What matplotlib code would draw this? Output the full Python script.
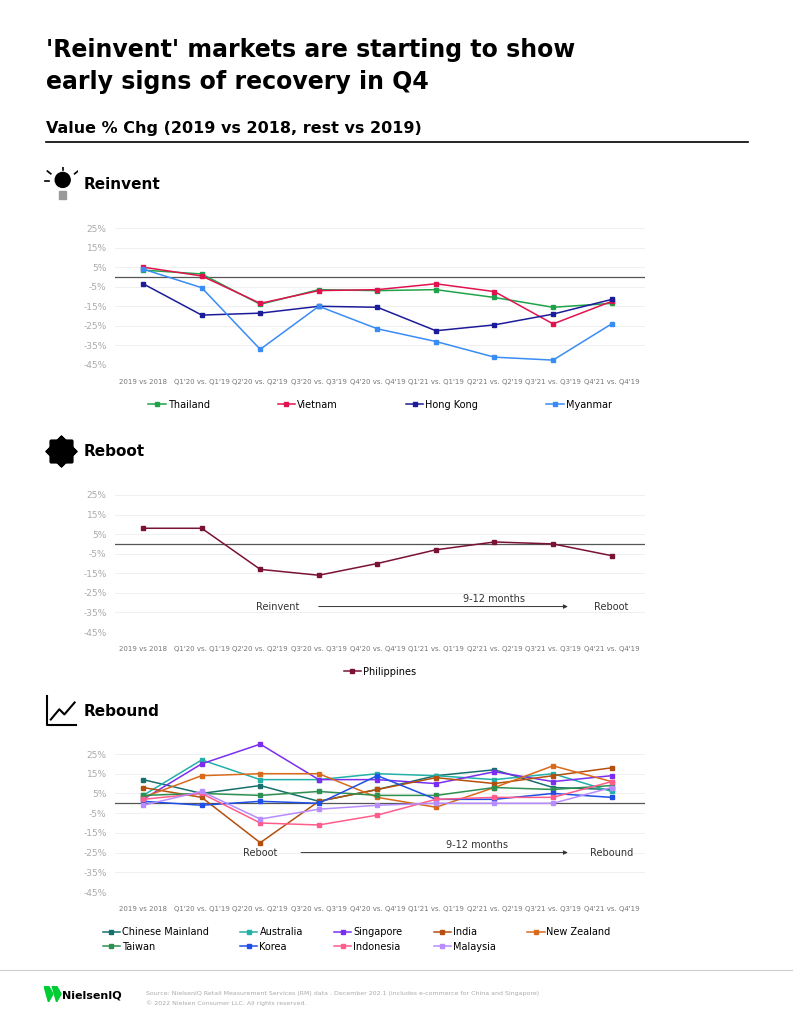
import matplotlib.pyplot as plt
from matplotlib.patches import Circle, Rectangle, Polygon

periods = ["2019 vs 2018", "Q1'20 vs. Q1'19", "Q2'20 vs. Q2'19", "Q3'20 vs. Q3'19",
           "Q4'20 vs. Q4'19", "Q1'21 vs. Q1'19", "Q2'21 vs. Q2'19", "Q3'21 vs. Q3'19",
           "Q4'21 vs. Q4'19"]
yticks = [25, 15, 5, -5, -15, -25, -35, -45]

thailand = [3.5, 1.5, -14, -6.5, -7, -6.5, -10.5, -15.5, -13.5]
vietnam = [5, 0.5, -13.5, -7, -6.5, -3.5, -7.5, -24, -12.5]
hong_kong = [-3.5, -19.5, -18.5, -15, -15.5, -27.5, -24.5, -19, -11.5]
myanmar = [4, -5.5, -37, -15, -26.5, -33, -41, -42.5, -24]

philippines = [8, 8, -13, -16, -10, -3, 1, 0, -6]

chinese_mainland = [12, 5, 9, 1, 7, 14, 17, 8, 7]
australia = [4, 22, 12, 12, 15, 14, 12, 15, 6]
singapore = [2, 20, 30, 12, 12, 10, 16, 11, 14]
india = [8, 3, -20, 1, 7, 13, 10, 14, 18]
new_zealand = [3, 14, 15, 15, 3, -2, 8, 19, 11]
taiwan = [4, 5, 4, 6, 4, 4, 8, 7, 9]
korea = [1, -1, 1, 0, 14, 2, 2, 5, 3]
indonesia = [2, 5, -10, -11, -6, 2, 3, 3, 11]
malaysia = [-1, 6, -8, -3, -1, 0, 0, 0, 8]

fig = plt.figure(figsize=(7.93, 10.23), dpi=100)
W, H = 793, 1023

fig.text(46 / W, 1 - 50 / H, "'Reinvent' markets are starting to show", fontsize=17,
         fontweight='bold', va='center')
fig.text(46 / W, 1 - 82 / H, "early signs of recovery in Q4", fontsize=17,
         fontweight='bold', va='center')
fig.text(46 / W, 1 - 128 / H, "Value % Chg (2019 vs 2018, rest vs 2019)", fontsize=11.5,
         fontweight='bold', va='center')
fig.add_artist(plt.Line2D([46 / W, 748 / W], [1 - 142 / H] * 2, color='black', lw=1.2))
fig.add_artist(plt.Line2D([0, 1], [1 - 970 / H] * 2, color='#cccccc', lw=0.8))


def setup(ax_top, ax_bot):
    ax = fig.add_axes([115 / W, 1 - ax_bot / H, 530 / W, (ax_bot - ax_top) / H])
    ax.set_xlim(-0.48, 8.57)
    ax.set_ylim(-45, 25)
    for s in ax.spines.values():
        s.set_visible(False)
    ax.set_yticks(yticks)
    ax.set_yticklabels([f"{t}%" for t in yticks], color='#aaaaaa', fontsize=6.5)
    ax.set_xticks(range(len(periods)))
    ax.set_xticklabels(periods, color='#777777', fontsize=5,
                       family='Liberation Sans Narrow')
    ax.tick_params(length=0, pad=10)
    ax.tick_params(axis='y', pad=6)
    for t in yticks:
        ax.axhline(t, color='#f0f0f0', lw=0.8, zorder=0)
    ax.axhline(0, color='#555555', lw=0.9, zorder=1)
    return ax


def plot(ax, data, names, colors):
    lines = []
    for d, n, c in zip(data, names, colors):
        ln, = ax.plot(range(len(d)), d, color=c, marker='s', ms=3.5, lw=1.1, label=n, clip_on=False)
        lines.append(ln)
    return lines


# Section headers with simple icons
def header(y, label, kind):
    fig.text(84 / W, 1 - y / H, label, fontsize=11, fontweight='bold', va='center')
    ia = fig.add_axes([44 / W, 1 - (y + 17) / H, 34 / W, 34 / H])
    ia.set_xlim(0, 1)
    ia.set_ylim(0, 1)
    ia.axis('off')
    if kind == 'bulb':
        ia.add_patch(Circle((0.55, 0.62), 0.22, color='black'))
        ia.add_patch(Rectangle((0.45, 0.05), 0.2, 0.25, color='#999999'))
        for x0, y0, x1, y1 in [(0.55, 0.92, 0.55, 1.0), (0.2, 0.8, 0.1, 0.88),
                               (0.9, 0.8, 1.0, 0.88), (0.15, 0.6, 0.02, 0.6)]:
            ia.plot([x0, x1], [y0, y1], color='black', lw=1.2)
    elif kind == 'gear':
        for a in range(0, 360, 45):
            ia.plot([0.5], [0.5], marker=(4, 0, a), ms=22, color='black')
        ia.add_patch(Circle((0.5, 0.5), 0.3, color='black'))
        ia.add_patch(Circle((0.5, 0.5), 0.13, color='white'))
    else:
        ia.plot([0.1, 0.1, 0.95], [0.95, 0.1, 0.1], color='black', lw=1.5)
        ia.plot([0.2, 0.45, 0.6, 0.9], [0.25, 0.55, 0.4, 0.75], color='black', lw=1.5)


header(184, "Reinvent", 'bulb')
header(451, "Reboot", 'gear')
header(711, "Rebound", 'chart')

ax1 = setup(228, 365)
plot(ax1, [thailand, vietnam, hong_kong, myanmar],
     ["Thailand", "Vietnam", "Hong Kong", "Myanmar"],
     ['#1fa34a', '#e0134f', '#1c1c99', '#3a8cf5'])
ax1.legend(loc='upper center', bbox_to_anchor=(0.5, -0.19), ncol=4, frameon=False,
           fontsize=7, handlelength=1.8, handletextpad=0.2, columnspacing=7)

ax2 = setup(495, 632)
plot(ax2, [philippines], ["Philippines"], ['#7a1236'])
ax2.legend(loc='upper center', bbox_to_anchor=(0.5, -0.19), ncol=1, frameon=False,
           fontsize=7, handlelength=1.8, handletextpad=0.2)
ax2.text(2.3, -32, "Reinvent", fontsize=7, ha='center', va='center', color='#333333')
ax2.text(6.0, -28, "9-12 months", fontsize=7, ha='center', va='center', color='#333333')
ax2.text(8.0, -32, "Reboot", fontsize=7, ha='center', va='center', color='#333333')
ax2.annotate("", xy=(7.3, -32), xytext=(2.95, -32),
             arrowprops=dict(arrowstyle='-|>', lw=0.7, color='#333333', mutation_scale=6))

ax3 = setup(754, 892)
l3 = plot(ax3, [chinese_mainland, australia, singapore, india, new_zealand,
                taiwan, korea, indonesia, malaysia],
          ["Chinese Mainland", "Australia", "Singapore", "India", "New Zealand",
           "Taiwan", "Korea", "Indonesia", "Malaysia"],
          ['#17706c', '#22b0a8', '#7a2ff0', '#b4500e', '#d96a1c',
           '#2e9050', '#1f4fe6', '#ff5d8c', '#b68cff'])
order = [0, 5, 1, 6, 2, 7, 3, 8, 4]
ax3.legend([l3[i] for i in order], [l3[i].get_label() for i in order],
           loc='upper left', bbox_to_anchor=(-0.04, -0.19), ncol=5, frameon=False,
           fontsize=7, handlelength=1.8, handletextpad=0.2, columnspacing=3.2, labelspacing=0.5)
ax3.text(2.0, -25, "Reboot", fontsize=7, ha='center', va='center', color='#333333')
ax3.text(5.7, -21, "9-12 months", fontsize=7, ha='center', va='center', color='#333333')
ax3.text(8.0, -25, "Rebound", fontsize=7, ha='center', va='center', color='#333333')
ax3.annotate("", xy=(7.3, -25), xytext=(2.65, -25),
             arrowprops=dict(arrowstyle='-|>', lw=0.7, color='#333333', mutation_scale=6))

# footer
fig.text(62 / W, 1 - 996 / H, "NielsenIQ", fontsize=8, fontweight='bold', va='center')
la = fig.add_axes([44 / W, 1 - 1002 / H, 18 / W, 16 / H])
la.axis('off')
la.set_xlim(0, 1)
la.set_ylim(0, 1)
la.add_patch(Polygon([[0, 1], [0.25, 1], [0.5, 0.5], [0.25, 0]], color='#00cc33'))
la.add_patch(Polygon([[0.45, 1], [0.7, 1], [0.95, 0.5], [0.7, 0]], color='#00cc33'))
fig.text(146 / W, 1 - 993 / H, "Source: NielsenIQ Retail Measurement Services (RM) data . December 202.1 "
         "(includes e-commerce for China and Singapore)", fontsize=4.5, color='#aaaaaa', va='center')
fig.text(146 / W, 1 - 1003 / H, "\u00a9 2022 Nielsen Consumer LLC. All rights reserved.",
         fontsize=4.5, color='#aaaaaa', va='center')

fig.savefig('out.png', dpi=100)
